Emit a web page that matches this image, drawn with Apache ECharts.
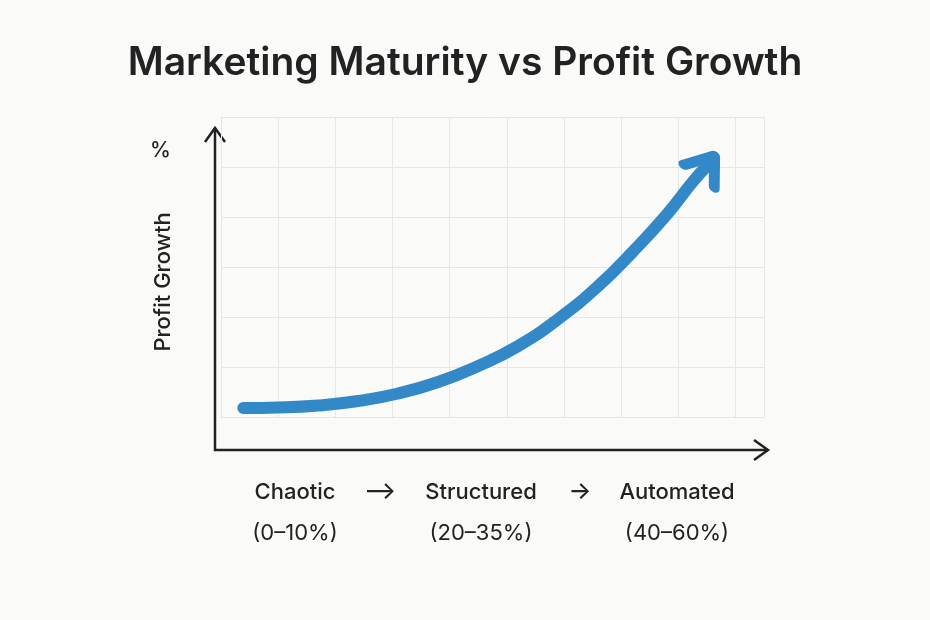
<!DOCTYPE html>
<html>
<head>
<meta charset="utf-8">
<script src="https://cdn.jsdelivr.net/npm/echarts@6/dist/echarts.min.js"></script>
<style>html,body{margin:0;background:#fafaf8}#c{width:930px;height:620px}</style>
</head>
<body>
<div id="c"></div>
<script>
// curve points (x: maturity step, y: growth step)
var curveX = [0.39, 1.0, 1.7, 2.4, 3.1, 3.8, 4.5, 5.2, 5.9, 6.6, 7.2, 7.8, 8.25, 8.5]
var curveY = [0.18, 0.19, 0.23, 0.32, 0.47, 0.7, 1.02, 1.42, 1.96, 2.62, 3.3, 4.05, 4.7, 5.02]
var stages = ['Chaotic', 'Structured', 'Automated']
var ranges = ['(0–10%)', '(20–35%)', '(40–60%)']
var stageX = [295, 481, 677]

var chart = echarts.init(document.getElementById('c'))
var pts = curveX.map(function (x, i) { return [x, curveY[i]] })
var ink = '#222'
var font = 'Inter, "Noto Sans", sans-serif'

var graphics = [
  { type: 'text', left: 'center', top: 44, style: { text: 'Marketing Maturity vs Profit Growth', font: '600 39px ' + font, fill: ink } },
  { type: 'text', x: 150, y: 140, style: { text: '%', font: '500 21px ' + font, fill: ink } },
  { type: 'text', x: 163, y: 282, rotation: Math.PI / 2, style: { text: 'Profit Growth', font: '500 22px ' + font, fill: ink, align: 'center', verticalAlign: 'middle' } },
  { type: 'polyline', shape: { points: [[215, 128], [215, 450], [768, 450]] }, style: { stroke: ink, lineWidth: 2.5, fill: null } },
  { type: 'polyline', shape: { points: [[205, 142], [215, 128], [225, 142]] }, style: { stroke: ink, lineWidth: 2.5, fill: null } },
  { type: 'polyline', shape: { points: [[754, 440], [768, 450], [754, 460]] }, style: { stroke: ink, lineWidth: 2.5, fill: null } },
  { type: 'text', x: 380, y: 492, style: { text: '⟶', font: '500 24px ' + font, fill: ink, align: 'center', verticalAlign: 'middle' } },
  { type: 'text', x: 580, y: 492, style: { text: '→', font: '500 24px ' + font, fill: ink, align: 'center', verticalAlign: 'middle' } }
]
stages.forEach(function (s, i) {
  graphics.push({ type: 'text', x: stageX[i], y: 492, style: { text: s, font: '500 22px ' + font, fill: ink, align: 'center', verticalAlign: 'middle' } })
  graphics.push({ type: 'text', x: stageX[i], y: 533, style: { text: ranges[i], font: '22px ' + font, fill: ink, align: 'center', verticalAlign: 'middle' } })
})

chart.setOption({
  backgroundColor: '#fafaf8',
  animation: false,
  grid: { left: 221, top: 117, right: 930 - 764, bottom: 620 - 417 },
  xAxis: {
    type: 'value', min: 0, max: 9.5, interval: 1,
    axisLine: { show: false }, axisTick: { show: false }, axisLabel: { show: false },
    splitLine: { lineStyle: { color: '#e6e6e6' } }
  },
  yAxis: {
    type: 'value', min: 0, max: 6, interval: 1,
    axisLine: { show: false }, axisTick: { show: false }, axisLabel: { show: false },
    splitLine: { lineStyle: { color: '#e6e6e6' } }
  },
  series: [
    {
      type: 'line', data: pts, smooth: true, showSymbol: false,
      lineStyle: { color: '#3389c8', width: 12, cap: 'round' }
    },
    {
      type: 'scatter', data: [pts[pts.length - 1]],
      symbol: 'path://M0,20 L14,0 L28,20', symbolSize: [38, 26], symbolRotate: -37,
      itemStyle: { color: 'rgba(0,0,0,0)', borderColor: '#3389c8', borderWidth: 10, borderCap: 'round', borderJoin: 'round', opacity: 1 }
    }
  ],
  graphic: graphics
})
</script>
</body>
</html>
